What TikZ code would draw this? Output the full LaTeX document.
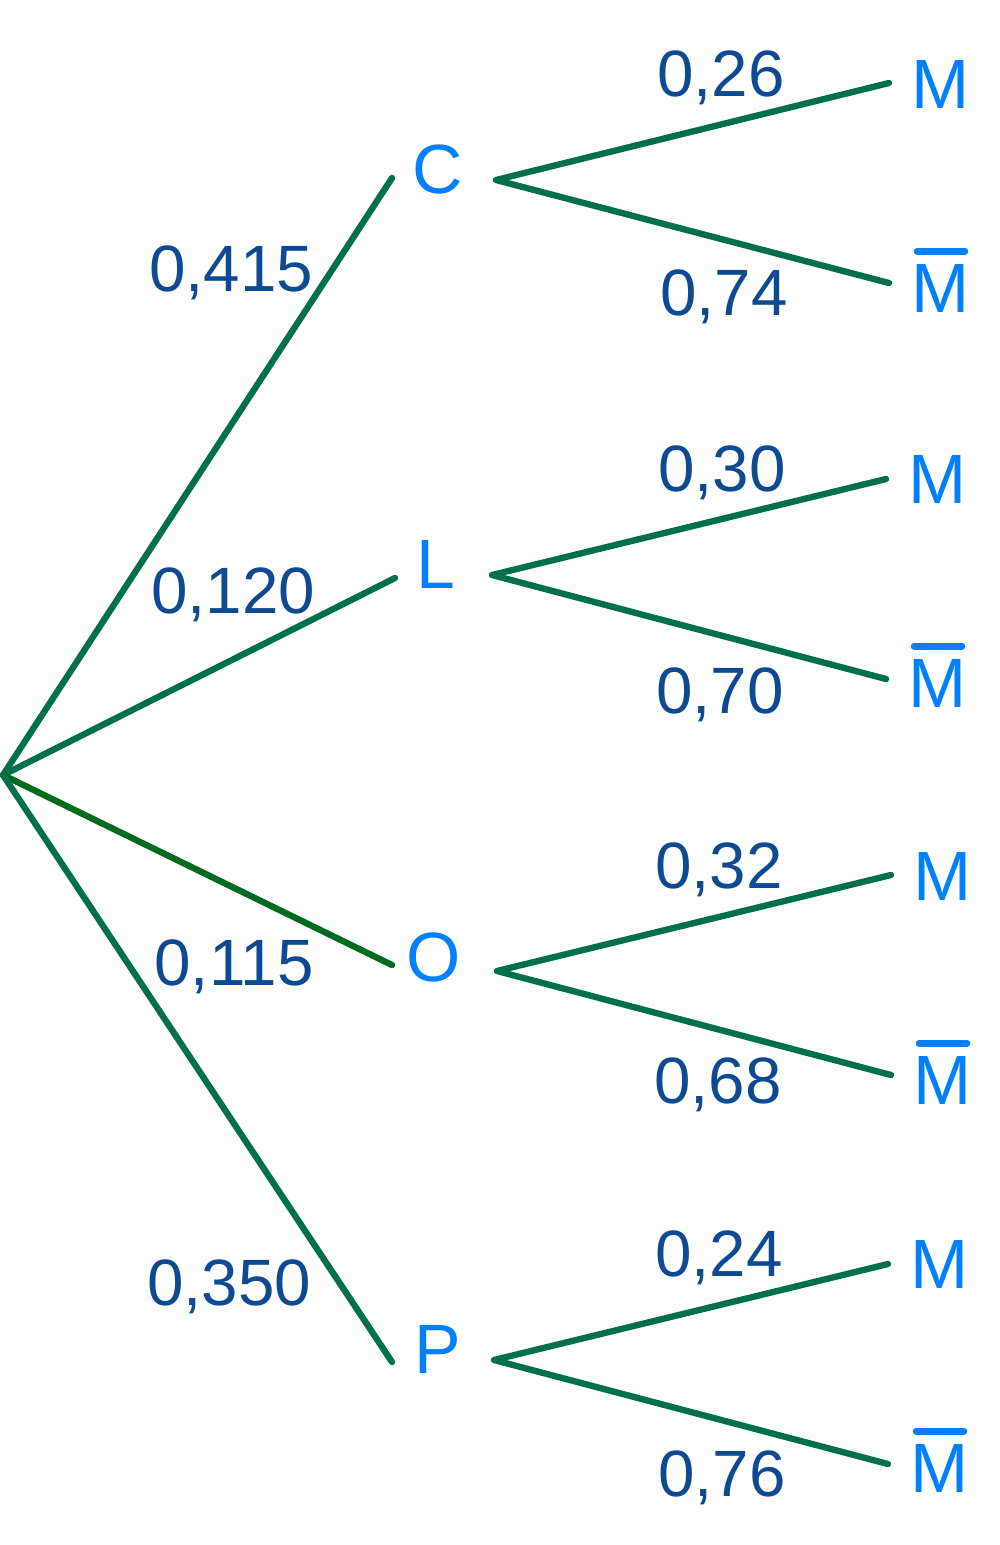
\documentclass[tikz,border=0pt]{standalone}
\usepackage{fontspec}
\setmainfont{Liberation Sans}
\definecolor{branch}{HTML}{00704A}
\definecolor{branchO}{HTML}{006B1E}
\definecolor{letter}{HTML}{0080FF}
\definecolor{prob}{HTML}{0D4A92}
\begin{document}
\begin{tikzpicture}[x=0.02cm,y=-0.02cm,
  edge/.style={draw=branch,line width=3.6pt,line cap=round,line join=round},
  lett/.style={text=letter,font=\fontsize{39.7}{40}\selectfont,inner sep=0pt,anchor=base},
  pr/.style={text=prob,font=\fontsize{37.3}{38}\selectfont,inner sep=0pt,anchor=base},
  barline/.style={draw=letter,line width=4pt,line cap=round}]
\useasboundingbox (0,0) rectangle (1000,1545);
% root and branch ends
\coordinate (root) at (3,775);
\coordinate (eC) at (392,178);
\coordinate (eL) at (395,578);
\coordinate (eO) at (392,965);
\coordinate (eP) at (392,1362);
\coordinate (sC) at (496,180);
\coordinate (sL) at (492,575);
\coordinate (sO) at (497,971);
\coordinate (sP) at (494,1360);
\coordinate (mC) at (889,83);   \coordinate (bC) at (889,283);
\coordinate (mL) at (886,479);  \coordinate (bL) at (886,679);
\coordinate (mO) at (891,875);  \coordinate (bO) at (891,1075);
\coordinate (mP) at (888,1264); \coordinate (bP) at (888,1464);
% letters
\node[lett] (C) at (438,193) {C};
\node[lett] (L) at (436,588) {L};
\node[lett] (O) at (434,981) {O};
\node[lett] (P) at (438,1373) {P};
\node[lett] (MC) at (941,108) {M};
\node[lett] (NC) at (941,312) {M};
\node[lett] (ML) at (938,503) {M};
\node[lett] (NL) at (938,707) {M};
\node[lett] (MO) at (943,900) {M};
\node[lett] (NO) at (943,1104) {M};
\node[lett] (MP) at (940,1288) {M};
\node[lett] (NP) at (940,1492) {M};
\foreach \n in {NC,NL,NO,NP}{
  \draw[barline] ([xshift=3.2pt,yshift=61*0.569pt]\n.base west) -- ([xshift=-3.2pt,yshift=61*0.569pt]\n.base east);
}
% edges
\draw[edge] (root) -- (eC);
\draw[edge] (root) -- (eL);
\draw[edge,draw=branchO] (root) -- (eO);
\draw[edge] (root) -- (eP);
\draw[edge] (mC) -- (sC) -- (bC);
\draw[edge] (mL) -- (sL) -- (bL);
\draw[edge] (mO) -- (sO) -- (bO);
\draw[edge] (mP) -- (sP) -- (bP);
% probabilities
\node[pr] (p1) at (231,291) {0,415};
\node[pr] (p2) at (233,613) {0,120};
\node[pr] (p3) at (234,985) {0,115};
\node[pr] (p4) at (229,1305) {0,350};
\node[pr] (q1) at (721,96) {0,26};
\node[pr] (q2) at (724,315) {0,74};
\node[pr] (q3) at (722,491) {0,30};
\node[pr] (q4) at (720,713) {0,70};
\node[pr] (q5) at (719,888) {0,32};
\node[pr] (q6) at (718,1103) {0,68};
\node[pr] (q7) at (719,1276) {0,24};
\node[pr] (q8) at (722,1496) {0,76};
\end{tikzpicture}
\end{document}
